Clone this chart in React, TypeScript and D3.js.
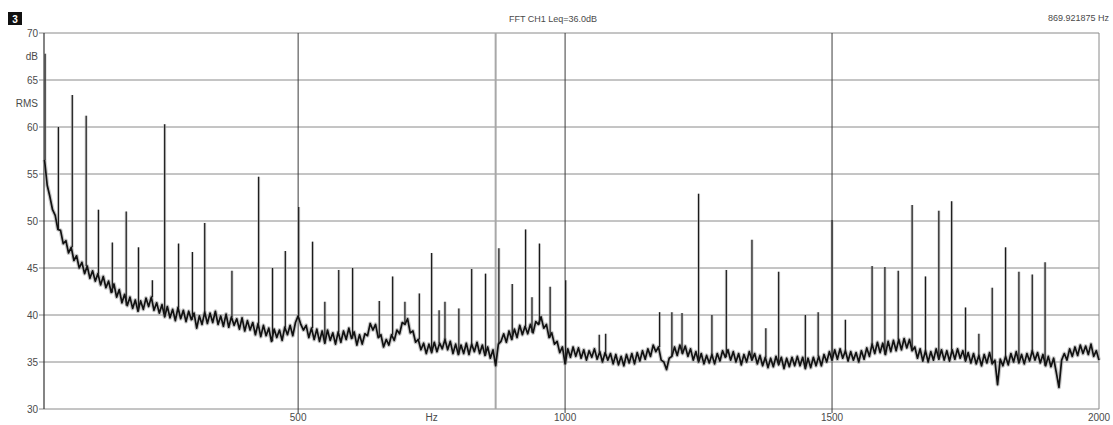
import React from "react";
import * as d3 from "d3";

// FFT bins: first bin frequency and bin spacing (Hz)
const binStart = 25;
const binStep = 5;

// Noise floor level (dB RMS), one value per bin
const spectrum = [
  56.5, 53.8, 52.6, 51.2, 50.6, 49.1, 49.0, 47.6, 47.9, 46.6, 47.2, 45.8, 46.3, 45.0, 45.6, 44.4, 45.2, 43.9, 44.7, 43.6,
  44.4, 43.2, 44.1, 42.9, 43.6, 42.4, 43.3, 41.9, 42.7, 41.3, 42.2, 41.0, 41.9, 40.7, 41.6, 40.4, 41.5, 40.6, 41.8, 40.9,
  41.9, 40.5, 41.3, 40.2, 41.1, 39.8, 40.9, 39.7, 40.6, 39.4, 40.8, 39.6, 40.5, 39.3, 40.4, 39.5, 40.2, 38.6, 39.9, 39.0,
  40.3, 39.1, 40.2, 39.2, 40.4, 39.0, 39.9, 38.8, 40.1, 38.7, 39.8, 38.9, 39.6, 38.5, 39.7, 38.3, 39.4, 38.4, 39.2, 37.9,
  39.1, 37.7, 38.9, 37.8, 38.6, 37.2, 38.5, 37.6, 38.4, 37.3, 38.7, 37.9, 38.9, 37.8, 39.2, 39.9, 39.0, 38.4, 38.9, 37.6,
  38.6, 37.4, 38.5, 37.2, 38.3, 37.0, 38.4, 37.3, 38.1, 36.9, 38.2, 37.1, 38.3, 37.4, 38.6, 37.5, 38.2, 36.8, 37.9, 36.9,
  38.0, 37.8, 39.1, 38.4, 39.0, 37.6, 37.9, 36.6, 37.4, 36.8, 37.9, 37.3, 38.4, 38.0, 39.2, 39.0, 39.6, 38.1, 38.3, 37.1,
  37.4, 36.3, 37.0, 35.9, 36.9, 36.0, 37.1, 36.1, 37.0, 36.4, 37.4, 36.3, 37.2, 35.9, 36.9, 35.8, 36.8, 35.9, 37.0, 35.8,
  36.9, 36.1, 37.1, 35.9, 36.8, 35.7, 36.6, 35.4, 36.3, 34.6, 36.9, 37.2, 38.0, 37.1, 38.3, 37.4, 38.5, 37.6, 38.9, 37.9,
  38.8, 38.0, 39.0, 38.1, 39.3, 39.0, 39.8, 38.6, 39.0, 37.6, 38.1, 36.9, 37.2, 36.0, 36.6, 34.8, 36.4, 35.5, 36.6, 35.6,
  36.5, 35.4, 36.3, 35.2, 36.2, 35.5, 36.4, 35.3, 36.1, 35.0, 36.0, 35.2, 35.9, 34.8, 35.8, 34.7, 35.6, 34.6, 35.8, 34.9,
  35.9, 34.8, 36.0, 35.1, 36.2, 35.3, 36.4, 35.6, 36.8, 36.1, 36.6, 35.2, 35.0, 34.2, 35.4, 35.6, 36.6, 35.7, 36.8, 35.9,
  36.7, 35.6, 36.4, 35.2, 36.1, 35.0, 35.9, 34.8, 35.7, 34.9, 35.8, 34.8, 35.9, 35.1, 36.2, 35.5, 36.3, 35.2, 36.1, 35.0,
  35.9, 34.7, 35.8, 35.0, 36.1, 35.2, 35.9, 34.8, 35.7, 34.6, 35.5, 34.4, 35.4, 34.5, 35.6, 34.7, 35.5, 34.3, 35.4, 34.5,
  35.5, 34.6, 35.6, 34.6, 35.5, 34.3, 35.4, 34.4, 35.5, 34.6, 35.6, 34.6, 35.8, 35.0, 36.1, 35.2, 36.3, 35.3, 36.4, 35.4,
  36.2, 35.1, 36.1, 35.2, 36.0, 35.0, 36.2, 35.3, 36.5, 35.6, 36.9, 35.9, 37.1, 36.0, 37.0, 35.8, 37.2, 36.1, 37.3, 36.2,
  37.4, 36.3, 37.5, 36.5, 37.4, 36.2, 36.6, 35.4, 36.4, 35.1, 36.2, 35.0, 36.1, 35.2, 36.4, 35.3, 36.3, 35.2, 36.2, 35.1,
  36.3, 35.3, 36.4, 35.4, 36.2, 35.1, 36.0, 34.9, 35.9, 34.8, 35.7, 34.6, 35.8, 34.9, 36.0, 34.8, 35.2, 32.6, 35.3, 34.6,
  35.6, 34.7, 35.9, 35.0, 36.1, 34.9, 35.8, 34.8, 35.9, 35.1, 36.2, 35.2, 36.0, 34.9, 35.8, 34.6, 35.6, 34.5, 35.4, 33.9,
  32.3, 35.2, 35.9, 35.2, 36.4, 35.6, 36.6, 35.7, 36.8, 35.9, 36.7, 35.8, 36.9, 35.6, 36.2, 35.2,
];

// Tonal peaks: frequency (Hz) and level (dB)
const peakFreqs = [
  26, 51, 77, 103, 126, 152, 178, 201, 227, 250, 276, 302, 325, 376, 426, 452, 476, 501, 527, 550,
  576, 602, 652, 677, 700, 727, 750, 764, 775, 801, 825, 851, 876, 901, 926, 938, 952, 972, 1001, 1064,
  1076, 1177, 1200, 1219, 1250, 1275, 1302, 1350, 1376, 1400, 1450, 1474, 1500, 1525, 1575, 1599, 1624, 1650, 1675, 1700,
  1724, 1750, 1775, 1800, 1825, 1850, 1875, 1899,
];
const peakLevels = [
  67.8, 60.0, 63.4, 61.2, 51.2, 47.7, 51.0, 47.2, 43.7, 60.3, 47.6, 46.7, 49.8, 44.7, 54.7, 45.0, 46.8, 51.5, 47.8, 41.4,
  44.8, 45.0, 41.5, 44.1, 41.4, 42.3, 46.6, 40.5, 41.4, 40.7, 44.9, 44.4, 47.1, 43.3, 49.1, 41.9, 47.6, 43.0, 43.7, 37.9,
  38.0, 40.3, 40.3, 40.2, 52.9, 40.0, 44.8, 48.0, 38.6, 44.6, 40.0, 40.3, 50.1, 39.5, 45.2, 45.1, 44.7, 51.7, 44.1, 51.1,
  52.1, 40.8, 38.0, 42.9, 47.2, 44.6, 44.3, 45.6,
];

// Axis ticks and labels
const yTicks = [30, 35, 40, 45, 50, 55, 60, 65, 70];
const yUnits = [
  { label: "dB", level: 67.5 },
  { label: "RMS", level: 62.5 },
];
const xTicks = [500, 1000, 1500, 2000];
const xUnit = { label: "Hz", freq: 750 };
const cursorFreq = 869.921875;
const title = "FFT CH1 Leq=36.0dB";

const App = () => {
  const width = 1113;
  const height = 425;

  // Scales: frequency axis starts a bit above 0 Hz
  const x = d3.scaleLinear().domain([24, 2000]).range([44, 1099]);
  const y = d3.scaleLinear().domain([30, 70]).range([409, 33]);

  // Spectrum trace
  const line = d3
    .line<number>()
    .x((d, i) => x(binStart + i * binStep))
    .y((d) => y(d));
  const tracePath = line(spectrum) || "";

  // Each peak rises from the floor bin it sits on
  const peaks = peakFreqs.map((f, i) => {
    const bin = Math.min(spectrum.length - 1, Math.max(0, Math.round((f - binStart) / binStep)));
    return { f, top: peakLevels[i], base: spectrum[bin] };
  });

  const font = "'Liberation Sans', Arial, sans-serif";
  const labelColor = "#4a4a4a";

  return (
    <svg
      width={width}
      height={height}
      style={{ position: "absolute", left: 0, top: 0, background: "#fff" }}
      fontFamily={font}
    >
      {/* window badge */}
      <rect x={8} y={12} width={14} height={13} fill="#111" />
      <text x={15} y={22.5} fontSize={10} fontWeight="bold" fill="#fff" textAnchor="middle">
        3
      </text>

      <text x={553} y={22} fontSize={9} fill={labelColor} textAnchor="middle">
        {title}
      </text>
      <text x={1109} y={21} fontSize={9} fill={labelColor} textAnchor="end">
        {`${cursorFreq} Hz`}
      </text>

      {/* horizontal grid */}
      {yTicks.map((t) => (
        <g key={t}>
          <line x1={x(24)} x2={x(2000)} y1={y(t)} y2={y(t)} stroke="#8a8a8a" strokeWidth={1} />
          <line x1={x(24) - 5} x2={x(24)} y1={y(t)} y2={y(t)} stroke="#8a8a8a" strokeWidth={1} />
          <text x={38} y={y(t)} dy="0.35em" fontSize={10} fill={labelColor} textAnchor="end">
            {t}
          </text>
        </g>
      ))}
      {yUnits.map((u) => (
        <text key={u.label} x={38} y={y(u.level)} dy="0.35em" fontSize={10} fill={labelColor} textAnchor="end">
          {u.label}
        </text>
      ))}

      {/* vertical grid */}
      {xTicks.map((t) => (
        <g key={t}>
          <line
            x1={x(t)}
            x2={x(t)}
            y1={y(70)}
            y2={y(30) + (t < 2000 ? 4 : 0)}
            stroke={t < 2000 ? "#3c3c3c" : "#8a8a8a"}
            strokeWidth={1}
          />
          <text x={x(t)} y={421} fontSize={10} fill={labelColor} textAnchor="middle">
            {t}
          </text>
        </g>
      ))}
      <text x={x(xUnit.freq)} y={421} fontSize={10} fill={labelColor} textAnchor="middle">
        {xUnit.label}
      </text>

      {/* cursor */}
      <line x1={x(cursorFreq)} x2={x(cursorFreq)} y1={y(70)} y2={y(30)} stroke="#a8a8a8" strokeWidth={2} />

      {/* left axis */}
      <line x1={x(24)} x2={x(24)} y1={y(70)} y2={y(30)} stroke="#333" strokeWidth={1.2} />

      {/* soft halo under the trace, like the anti-aliased screen capture */}
      <path d={tracePath} fill="none" stroke="#9a9a9a" strokeOpacity={0.55} strokeWidth={4} strokeLinejoin="round" />
      {peaks.map((p, i) => (
        <line
          key={`h${i}`}
          x1={x(p.f)}
          x2={x(p.f)}
          y1={y(p.base)}
          y2={y(p.top)}
          stroke="#b0b0b0"
          strokeOpacity={0.6}
          strokeWidth={3}
        />
      ))}

      {/* spectrum */}
      <path d={tracePath} fill="none" stroke="#111" strokeWidth={1.7} strokeLinejoin="round" />
      {peaks.map((p, i) => (
        <line
          key={i}
          x1={x(p.f)}
          x2={x(p.f)}
          y1={y(p.base)}
          y2={y(p.top)}
          stroke="#1a1a1a"
          strokeWidth={1.2}
        />
      ))}
    </svg>
  );
};

export default App;
